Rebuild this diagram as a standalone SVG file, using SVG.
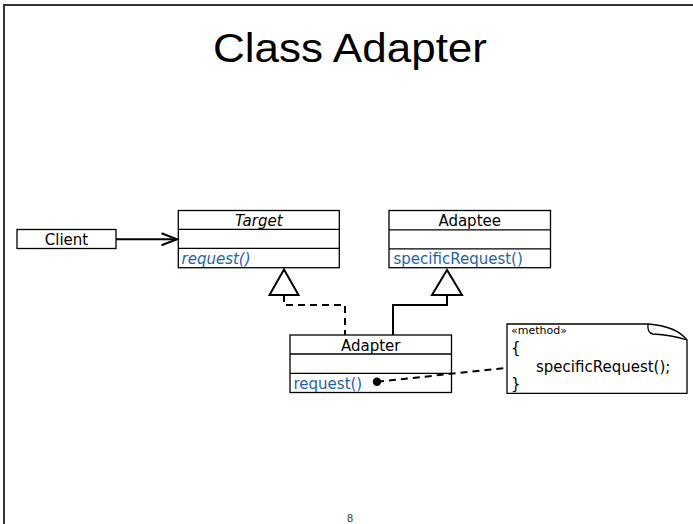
<svg xmlns="http://www.w3.org/2000/svg" width="693" height="524" viewBox="0 0 693 524">
  <style>
    .box { fill: #ffffff; stroke: #000000; stroke-width: 1.3; }
    .sep { stroke: #000000; stroke-width: 1.3; }
    .lbl { font-family: "DejaVu Sans", sans-serif; font-size: 15px; fill: #000000; }
    .op { font-family: "DejaVu Sans", sans-serif; font-size: 15px; fill: #1f63a8; }
    .edge { fill: none; stroke: #000000; stroke-width: 2; }
    .dash { stroke-dasharray: 7 5; }
    .tri { fill: #ffffff; stroke: #000000; stroke-width: 2; }
  </style>

  <rect width="693" height="524" fill="#ffffff"/>
  <!-- page frame -->
  <path d="M4,524 L4,5 L693,5" fill="none" stroke="#333333" stroke-width="2"/>

  <text x="350" y="62" text-anchor="middle" font-family="'Liberation Sans', Arial, sans-serif" font-size="41" textLength="274" lengthAdjust="spacingAndGlyphs" fill="#000000">Class Adapter</text>

  <g id="client">
    <rect class="box" x="17" y="229.5" width="99" height="19"/>
    <text class="lbl" x="66.5" y="245" text-anchor="middle">Client</text>
  </g>

  <g id="target">
    <rect class="box" x="178.3" y="210.5" width="161" height="57.2"/>
    <line class="sep" x1="178.3" y1="229.3" x2="339.3" y2="229.3"/>
    <line class="sep" x1="178.3" y1="248.3" x2="339.3" y2="248.3"/>
    <text class="lbl" x="258.8" y="226" text-anchor="middle" font-style="italic">Target</text>
    <text class="op" x="181.5" y="264" font-style="italic">request()</text>
  </g>

  <g id="adaptee">
    <rect class="box" x="389" y="210.5" width="161.5" height="57.2"/>
    <line class="sep" x1="389" y1="229.8" x2="550.5" y2="229.8"/>
    <line class="sep" x1="389" y1="248.8" x2="550.5" y2="248.8"/>
    <text class="lbl" x="469.7" y="226" text-anchor="middle">Adaptee</text>
    <text class="op" x="393.5" y="264">specificRequest()</text>
  </g>

  <g id="adapter">
    <rect class="box" x="290" y="335" width="161.5" height="57.5"/>
    <line class="sep" x1="290" y1="354" x2="451.5" y2="354"/>
    <line class="sep" x1="290" y1="373.3" x2="451.5" y2="373.3"/>
    <text class="lbl" x="370.7" y="350.5" text-anchor="middle">Adapter</text>
    <text class="op" x="293.5" y="389">request()</text>
  </g>

  <g id="note">
    <path class="box" d="M507,324 L648,324 Q676,326 687,340 L687,393.3 L507,393.3 Z"/>
    <path d="M648,324 Q647,333 653,334 Q672,335 687,340" fill="none" stroke="#000000" stroke-width="1.3"/>
    <text x="511" y="333.5" font-family="'DejaVu Sans', sans-serif" font-size="11" fill="#000000">«method»</text>
    <text class="lbl" x="511" y="353">{</text>
    <text class="lbl" x="536" y="371.5">specificRequest();</text>
    <text class="lbl" x="511" y="388.5">}</text>
  </g>

  <g id="connectors">
    <!-- Client -> Target association -->
    <line class="edge" x1="116" y1="239.3" x2="177" y2="239.3"/>
    <polyline class="edge" points="161.5,233.3 177,239.3 161.5,245.3"/>
    <!-- Adapter realizes Target -->
    <polyline class="edge dash" points="284,295 284,305 345,305 345,335"/>
    <polygon class="tri" points="284,269.5 269.5,295 298.5,295"/>
    <!-- Adapter extends Adaptee -->
    <polyline class="edge" points="447,295 447,305 393,305 393,335"/>
    <polygon class="tri" points="447,270 432,295 462,295"/>
    <!-- note anchor on request() -->
    <line class="edge dash" x1="377" y1="381.7" x2="506" y2="368"/>
    <circle cx="377" cy="381.7" r="4.2" fill="#000000"/>
  </g>

  <text x="350" y="522" text-anchor="middle" font-family="'Liberation Sans', Arial, sans-serif" font-size="11" fill="#333333">8</text>
</svg>
